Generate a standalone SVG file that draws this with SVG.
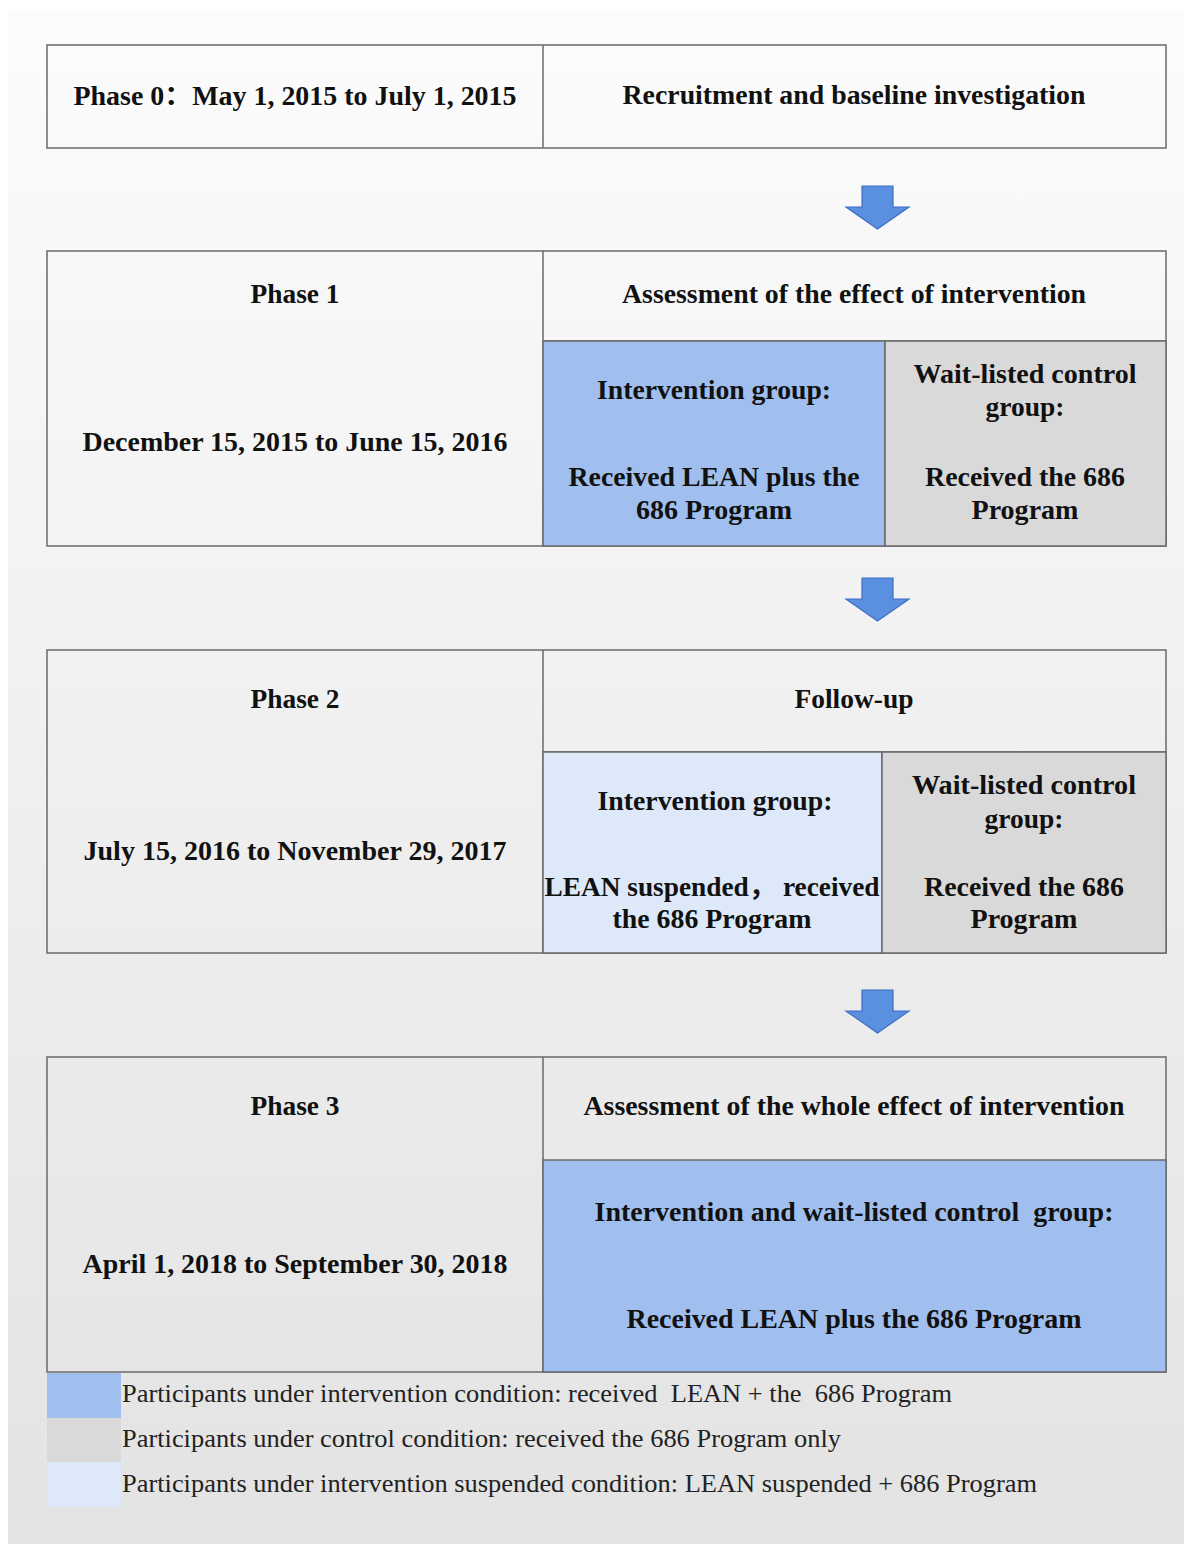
<svg xmlns="http://www.w3.org/2000/svg" width="1184" height="1544" viewBox="0 0 1184 1544">
  <defs>
    <linearGradient id="bg" x1="0" y1="0" x2="0" y2="1">
      <stop offset="0" stop-color="#fcfcfc"/>
      <stop offset="1" stop-color="#e3e3e3"/>
    </linearGradient>
    <style>
      .cell { fill: none; stroke: #6a6a6a; stroke-width: 1.5; }
      .blue { fill: #a0bfee; stroke: #6a6a6a; stroke-width: 1.5; }
      .gray { fill: #d9d9d9; stroke: #6a6a6a; stroke-width: 1.5; }
      .lblue { fill: #dde8f8; stroke: #6a6a6a; stroke-width: 1.5; }
      .t { font-family: "Liberation Serif", "Noto Sans CJK SC", serif; font-weight: bold; font-size: 27px; fill: #111; text-anchor: middle; white-space: pre; }
      .lg { font-family: "Liberation Serif", serif; font-size: 26px; fill: #222; white-space: pre; }
      .arrow { fill: #5b8fe0; stroke: #3d6fc4; stroke-width: 1.2; stroke-linejoin: miter; }
    </style>
  </defs>

  <rect x="0" y="0" width="1184" height="1544" fill="#ffffff"/>
  <rect x="8" y="10" width="1176" height="1534" fill="url(#bg)"/>

  <g id="phase0">
    <rect class="cell" x="47" y="45" width="1119" height="103"/>
    <line class="cell" x1="543" y1="45" x2="543" y2="148"/>
    <text class="t" x="295" y="105" textLength="443" lengthAdjust="spacingAndGlyphs">Phase 0：May 1, 2015 to July 1, 2015</text>
    <text class="t" x="854" y="104" textLength="463" lengthAdjust="spacingAndGlyphs">Recruitment and baseline investigation</text>
  </g>

  <g id="phase1">
    <rect class="cell" x="47" y="251" width="1119" height="295"/>
    <line class="cell" x1="543" y1="251" x2="543" y2="546"/>
    <line class="cell" x1="543" y1="341" x2="1166" y2="341"/>
    <rect class="blue" x="543" y="341" width="342" height="205"/>
    <rect class="gray" x="885" y="341" width="281" height="205"/>
    <text class="t" x="295" y="303" textLength="89" lengthAdjust="spacingAndGlyphs">Phase 1</text>
    <text class="t" x="295" y="451" textLength="425" lengthAdjust="spacingAndGlyphs">December 15, 2015 to June 15, 2016</text>
    <text class="t" x="854" y="303" textLength="464" lengthAdjust="spacingAndGlyphs">Assessment of the effect of intervention</text>
    <text class="t" x="714" y="399" textLength="234" lengthAdjust="spacingAndGlyphs">Intervention group:</text>
    <text class="t" x="714" y="486" textLength="291" lengthAdjust="spacingAndGlyphs">Received LEAN plus the</text>
    <text class="t" x="714" y="519" textLength="156" lengthAdjust="spacingAndGlyphs">686 Program</text>
    <text class="t" x="1025" y="383" textLength="223" lengthAdjust="spacingAndGlyphs">Wait-listed control</text>
    <text class="t" x="1025" y="416" textLength="79" lengthAdjust="spacingAndGlyphs">group:</text>
    <text class="t" x="1025" y="486" textLength="200" lengthAdjust="spacingAndGlyphs">Received the 686</text>
    <text class="t" x="1025" y="519" textLength="107" lengthAdjust="spacingAndGlyphs">Program</text>
  </g>

  <g id="phase2">
    <rect class="cell" x="47" y="650" width="1119" height="303"/>
    <line class="cell" x1="543" y1="650" x2="543" y2="953"/>
    <line class="cell" x1="543" y1="752" x2="1166" y2="752"/>
    <rect class="lblue" x="543" y="752" width="339" height="201"/>
    <rect class="gray" x="882" y="752" width="284" height="201"/>
    <text class="t" x="295" y="708" textLength="89" lengthAdjust="spacingAndGlyphs">Phase 2</text>
    <text class="t" x="295" y="860" textLength="423" lengthAdjust="spacingAndGlyphs">July 15, 2016 to November 29, 2017</text>
    <text class="t" x="854" y="708" textLength="119" lengthAdjust="spacingAndGlyphs">Follow-up</text>
    <text class="t" x="715" y="810" textLength="235" lengthAdjust="spacingAndGlyphs">Intervention group:</text>
    <text class="t" x="712" y="896" textLength="335" lengthAdjust="spacingAndGlyphs">LEAN suspended， received</text>
    <text class="t" x="712" y="928" textLength="199" lengthAdjust="spacingAndGlyphs">the 686 Program</text>
    <text class="t" x="1024" y="794" textLength="224" lengthAdjust="spacingAndGlyphs">Wait-listed control</text>
    <text class="t" x="1024" y="828" textLength="79" lengthAdjust="spacingAndGlyphs">group:</text>
    <text class="t" x="1024" y="896" textLength="200" lengthAdjust="spacingAndGlyphs">Received the 686</text>
    <text class="t" x="1024" y="928" textLength="107" lengthAdjust="spacingAndGlyphs">Program</text>
  </g>

  <g id="phase3">
    <rect class="cell" x="47" y="1057" width="1119" height="315"/>
    <line class="cell" x1="543" y1="1057" x2="543" y2="1372"/>
    <rect class="blue" x="543" y="1160" width="623" height="212"/>
    <text class="t" x="295" y="1115" textLength="89" lengthAdjust="spacingAndGlyphs">Phase 3</text>
    <text class="t" x="295" y="1273" textLength="425" lengthAdjust="spacingAndGlyphs">April 1, 2018 to September 30, 2018</text>
    <text class="t" x="854" y="1115" textLength="541" lengthAdjust="spacingAndGlyphs">Assessment of the whole effect of intervention</text>
    <text class="t" x="854" y="1221" textLength="519" lengthAdjust="spacingAndGlyphs">Intervention and wait-listed control  group:</text>
    <text class="t" x="854" y="1328" textLength="455" lengthAdjust="spacingAndGlyphs">Received LEAN plus the 686 Program</text>
  </g>

  <g id="connectors">
    <path class="arrow" d="M862,186 H893 V207 H909 L877.5,229 L846,207 H862 Z"/>
    <path class="arrow" d="M862,578 H893 V599 H909 L877.5,621 L846,599 H862 Z"/>
    <path class="arrow" d="M862,990 H893 V1011 H909 L877.5,1033 L846,1011 H862 Z"/>
  </g>

  <g id="legend">
    <rect x="47" y="1373" width="74" height="45" fill="#a0bfee"/>
    <rect x="47" y="1418" width="74" height="44" fill="#d9d9d9"/>
    <rect x="47" y="1462" width="74" height="45" fill="#dde8f8"/>
    <text class="lg" x="122" y="1402" textLength="830" lengthAdjust="spacingAndGlyphs">Participants under intervention condition: received  LEAN + the  686 Program</text>
    <text class="lg" x="122" y="1447" textLength="719" lengthAdjust="spacingAndGlyphs">Participants under control condition: received the 686 Program only</text>
    <text class="lg" x="122" y="1492" textLength="915" lengthAdjust="spacingAndGlyphs">Participants under intervention suspended condition: LEAN suspended + 686 Program</text>
  </g>
</svg>
